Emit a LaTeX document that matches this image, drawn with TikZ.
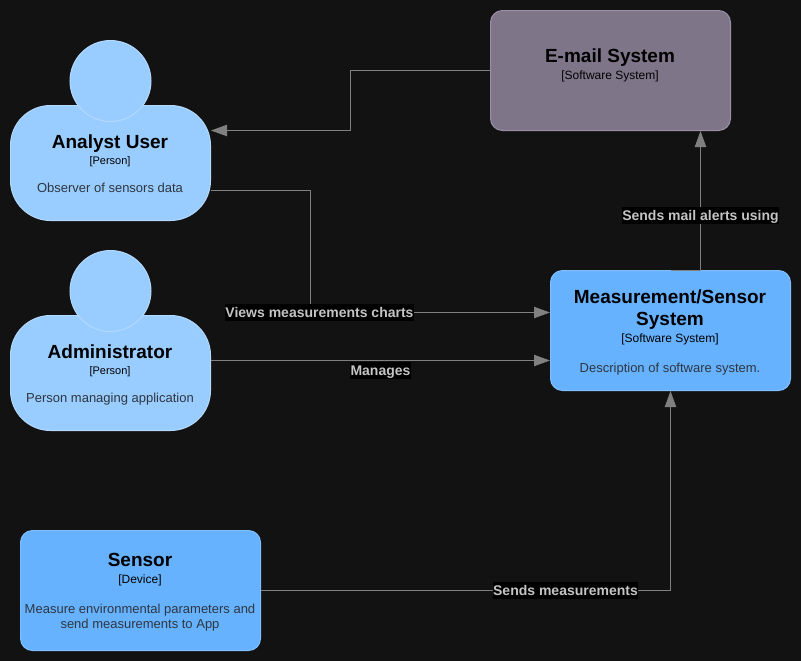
\documentclass[tikz,border=0pt]{standalone}
\usepackage{fontspec}
\setmainfont{Liberation Sans}
\usetikzlibrary{arrows.meta}
\definecolor{pagebg}{HTML}{121212}
\definecolor{personfill}{HTML}{99CCFF}
\definecolor{personline}{HTML}{B3D9FF}
\definecolor{systemfill}{HTML}{66B2FF}
\definecolor{systemline}{HTML}{80BFFF}
\definecolor{mailfill}{HTML}{7F7589}
\definecolor{mailline}{HTML}{9A8FA6}
\definecolor{linkgray}{HTML}{808080}
\definecolor{labelgray}{HTML}{C4C4C4}
\definecolor{desctext}{HTML}{2E3640}
\tikzset{
	body/.style={draw=#1, line width=0.75pt, inner sep=0pt, minimum width=180pt, minimum height=90pt, rounded corners=9pt},
	torso/.style={draw=personline, fill=personfill, line width=0.75pt, inner sep=0pt, minimum width=150pt, minimum height=86.25pt, rounded corners=30pt},
	head/.style={circle, draw=personline, fill=personfill, line width=0.75pt, inner sep=0pt, minimum size=60.75pt},
	title/.style={anchor=base, font=\fontsize{14.25}{17}\selectfont\bfseries, align=center, inner sep=0pt},
	kind/.style={anchor=base, font=\fontsize{9}{11}\selectfont, inner sep=0pt},
	personkind/.style={anchor=base, font=\fontsize{8.25}{10}\selectfont, inner sep=0pt},
	desc/.style={anchor=base, font=\fontsize{9.75}{12}\selectfont, text=desctext, align=center, inner sep=0pt},
	link/.style={draw=linkgray, line width=0.75pt, -{Triangle[length=12pt,width=8.5pt]}},
	linkplain/.style={draw=linkgray, line width=0.75pt},
	linklabel/.style={fill=black, text=labelgray, font=\fontsize{10.5}{12}\selectfont\bfseries, inner xsep=0.4pt, inner ysep=0pt, text height=9.75pt, text depth=3pt}
}
\begin{document}
\begin{tikzpicture}[x=0.75pt, y=-0.75pt]
	\fill[pagebg] (0, 0) rectangle (801, 661);
	\useasboundingbox (0, 0) rectangle (801, 661);

	% people
	\node[torso] (analyst) at (110.5, 163) {};
	\node[head] (analystHead) at (110.5, 81) {};
	\node[torso] (admin) at (110.5, 373) {};
	\node[head] (adminHead) at (110.5, 291) {};

	% systems
	\node[body=mailline, fill=mailfill] (email) at (610.5, 70.5) {};
	\node[body=systemline, fill=systemfill] (measure) at (670.5, 330.5) {};
	\node[body=systemline, fill=systemfill] (sensor) at (140.5, 590.5) {};

	% free ends on the box sides
	\coordinate (analystIn) at (211, 130.5);
	\coordinate (analystOut) at (211, 190.5);
	\coordinate (adminOut) at (211, 360.5);
	\coordinate (measureInA) at (550, 312.5);
	\coordinate (measureInB) at (550, 360.5);
	\coordinate (measureOut) at (700.5, 270);
	\coordinate (emailIn) at (700.5, 131);

	% connectors
	\draw[link] (email.west) -- (350.5, 70.5) -- (350.5, 130.5) -- (analystIn);
	\draw[link] (analystOut) -- (310.5, 190.5) -- (310.5, 312.5) -- (measureInA);
	\draw[link] (adminOut) -- (measureInB);
	\draw[link] (sensor.east) -| (measure.south);
	\draw[linkplain] (measure.north) -- (measureOut);
	\draw[link] (measureOut) -- (emailIn);

	% connector labels
	\node[linklabel] (viewsLabel) at (319.5, 312.5) {Views measurements charts};
	\node[linklabel] (managesLabel) at (380.5, 370.5) {Manages};
	\node[linklabel] (sendsLabel) at (565.5, 590.5) {Sends measurements};
	\node[linklabel] (mailLabel) at (700.5, 215.5) {Sends mail alerts using};

	% box texts
	\node[title] (analystTitle) at (110, 148) {Analyst User};
	\node[personkind] (analystKind) at (110, 164) {[Person]};
	\node[desc] (analystDesc) at (110, 192) {Observer of sensors data};

	\node[title] (adminTitle) at (110, 358) {Administrator};
	\node[personkind] (adminKind) at (110, 374) {[Person]};
	\node[desc] (adminDesc) at (110, 402) {Person managing application};

	\node[title] (emailTitle) at (610, 62) {E-mail System};
	\node[kind] (emailKind) at (610, 79) {[Software System]};

	\node[title] (measureTitleA) at (670, 303) {Measurement/Sensor};
	\node[title] (measureTitleB) at (670, 325) {System};
	\node[kind] (measureKind) at (670, 342) {[Software System]};
	\node[desc] (measureDesc) at (670, 372) {Description of software system.};

	\node[title] (sensorTitle) at (140, 566) {Sensor};
	\node[kind] (sensorKind) at (140, 583) {[Device]};
	\node[desc] (sensorDescA) at (140, 613) {Measure environmental parameters and};
	\node[desc] (sensorDescB) at (140, 628) {send measurements to App};
\end{tikzpicture}
\end{document}
